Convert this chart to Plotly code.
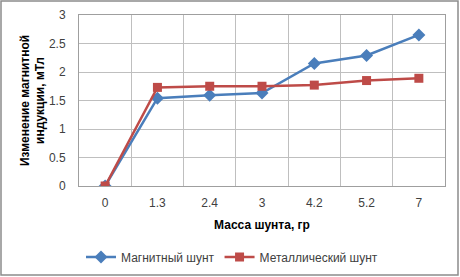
import plotly.graph_objects as go

categories = ["0", "1.3", "2.4", "3", "4.2", "5.2", "7"]
magnetic = [0, 1.54, 1.59, 1.63, 2.15, 2.29, 2.65]
metallic = [0, 1.73, 1.75, 1.75, 1.77, 1.85, 1.89]
y_ticks = [0, 0.5, 1, 1.5, 2, 2.5, 3]

W, H = 460, 277
L, R, T, B = 79, 15, 15, 91
pw, ph = W - L - R, H - T - B

fig = go.Figure()
fig.add_trace(go.Scatter(
    x=categories, y=magnetic, name="Магнитный шунт", mode="lines+markers",
    line=dict(color="#4A7EBB", width=2.5),
    marker=dict(symbol="diamond", size=10, color="#4A7EBB")))
fig.add_trace(go.Scatter(
    x=categories, y=metallic, name="Металлический шунт", mode="lines+markers",
    line=dict(color="#BE4B48", width=2.5),
    marker=dict(symbol="square", size=9, color="#BE4B48")))

font = "Liberation Sans, Arial, sans-serif"
fig.update_layout(
    width=W, height=H, margin=dict(l=L, r=R, t=T, b=B, autoexpand=False),
    paper_bgcolor="white", plot_bgcolor="white",
    font=dict(family=font, size=12, color="#404040"),
    xaxis=dict(type="category", tickson="boundaries", range=[-0.5, 6.5],
               showgrid=True, gridcolor="#BFBFBF", gridwidth=1,
               showline=True, linecolor="#9F9F9F", mirror=True,
               ticks="", ticklabelstandoff=6,
               title=dict(text="<b>Масса шунта, гр</b>", font=dict(size=12, color="#000"), standoff=11)),
    yaxis=dict(range=[0, 3], tickvals=y_ticks, showgrid=True, gridcolor="#BFBFBF",
               showline=True, linecolor="#9F9F9F", mirror=True, zeroline=False,
               ticks="", ticklabelstandoff=10,
               title=dict(text="<b>Изменение магнитной<br>индукции, мТл</b>", font=dict(size=12, color="#000"), standoff=1)),
    legend=dict(orientation="h", x=(232 - L) / pw, xanchor="center",
                y=-(257 - (H - B)) / ph, yanchor="middle",
                font=dict(size=12, color="#404040"), itemwidth=30, tracegroupgap=0),
    showlegend=True,
)
fig.add_shape(type="rect", xref="paper", yref="paper",
              x0=(1 - L) / pw, x1=(W - 2 - L) / pw,
              y0=-(H - 2 - T - ph) / ph, y1=1 + (T - 1) / ph,
              line=dict(color="#8C8C8C", width=1.5))
fig.write_html("out.html", config={"displayModeBar": False},
               post_script="document.body.style.margin='0px';")
